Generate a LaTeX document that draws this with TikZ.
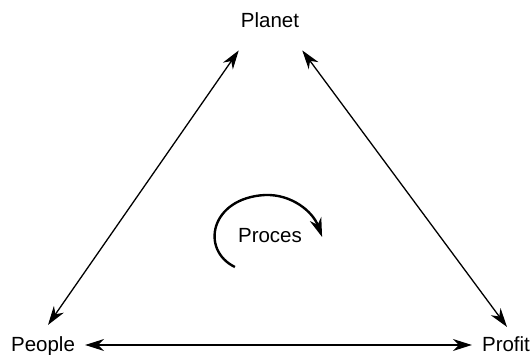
\documentclass[tikz,border=0pt]{standalone}
\usepackage{fontspec}
\setmainfont{Liberation Sans}
\usetikzlibrary{arrows.meta,calc}
\tikzset{
  corner/.style={font=\fontsize{20.5}{24}\selectfont, inner sep=0pt, anchor=base},
  link/.style={{Stealth[length=19pt,width=12pt,inset=6pt]}-{Stealth[length=19pt,width=12pt,inset=6pt]},
               line width=1.3pt},
  procarrow/.style={-{Stealth[length=19pt,width=12pt,inset=6pt]}, line width=2.4pt}
}
\begin{document}
\begin{tikzpicture}[x=1pt,y=-1pt]
\useasboundingbox (0,0) rectangle (531,355);
% the three corners and the centre
\node[corner] (planet) at (270,28) {Planet};
\node[corner] (people) at (43,352) {People};
\node[corner] (profit) at (506,352) {Profit};
\node[corner] (proces) at (270,243) {Proces};
% sides
\draw[link] ($(people.north)+(5,-12)$) -- ($(planet.south west)+(-2,22)$);
\draw[link] ($(planet.south east)+(3,22)$) -- ($(profit.north)+(1,-10)$);
\draw[link] ($(people.base east)+(10,-7)$) -- ($(profit.base west)+(-10,-7)$);
% loop round the centre
\draw[procarrow] ($(proces.base west)+(-3,24)$) .. controls (200,250) and (210,198) .. (265,195)
  .. controls (292,194) and (313,212) .. ($(proces.base east)+(20,-6)$);
\end{tikzpicture}
\end{document}
